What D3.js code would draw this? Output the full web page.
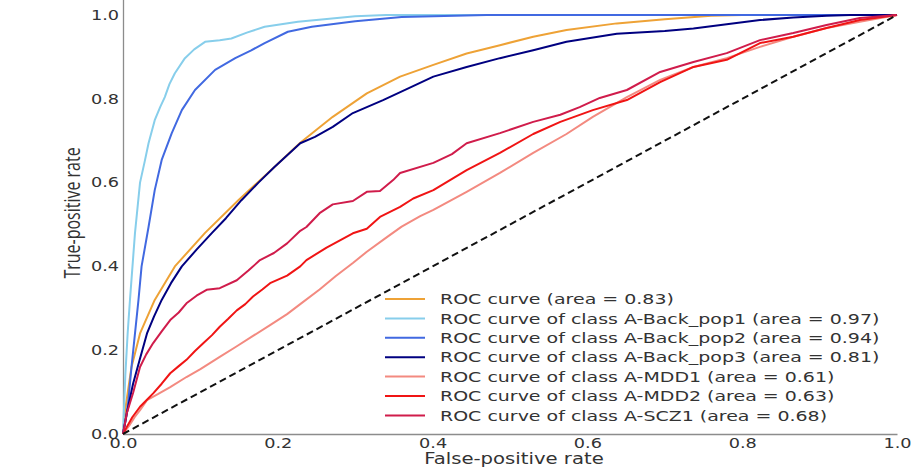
<!DOCTYPE html>
<html>
  <head>
    <title>ROC curves</title>
    <script src="https://d3js.org/d3.v7.min.js" charset="utf-8"></script>
    <style>
      body { margin: 0; background: #fff; }
      svg { display: block; }
      .tick text { font-family: "DejaVu Sans", sans-serif; font-size: 13.5px; fill: #333; }
      .domain { stroke: #8c8c8c; stroke-width: 1.3; }
    </style>
  </head>
  <body>
    <svg></svg>
    <script>
      // values, [false-positive rate, true-positive rate]
      const rocAll = [[0,0],[0.003,0.06],[0.011,0.16],[0.022,0.24],[0.041,0.32],[0.067,0.40],[0.106,0.48],[0.149,0.558],[0.196,0.638],[0.229,0.695],[0.271,0.757],[0.315,0.813],[0.358,0.853],[0.401,0.881],[0.444,0.908],[0.487,0.928],[0.530,0.948],[0.573,0.964],[0.638,0.980],[0.700,0.990],[0.760,0.998],[0.800,1.0],[1,1]];
      const rocBackPop1 = [[0,0],[0.003,0.14],[0.006,0.24],[0.009,0.32],[0.0155,0.48],[0.022,0.60],[0.028,0.65],[0.033,0.694],[0.041,0.749],[0.048,0.78],[0.054,0.804],[0.060,0.835],[0.067,0.861],[0.080,0.897],[0.092,0.918],[0.106,0.936],[0.125,0.940],[0.140,0.944],[0.160,0.958],[0.183,0.972],[0.226,0.984],[0.26,0.99],[0.30,0.997],[0.34,1.0],[1,1]];
      const rocBackPop2 = [[0,0],[0.004,0.04],[0.007,0.081],[0.011,0.16],[0.0155,0.24],[0.020,0.32],[0.024,0.40],[0.033,0.494],[0.041,0.582],[0.050,0.654],[0.063,0.718],[0.076,0.773],[0.093,0.821],[0.119,0.869],[0.145,0.897],[0.165,0.915],[0.183,0.933],[0.213,0.96],[0.244,0.972],[0.30,0.985],[0.36,0.995],[0.47,1.0],[1,1]];
      const rocBackPop3 = [[0,0],[0.005,0.05],[0.013,0.12],[0.022,0.18],[0.031,0.24],[0.040,0.28],[0.050,0.32],[0.062,0.36],[0.076,0.40],[0.095,0.44],[0.115,0.48],[0.133,0.515],[0.153,0.558],[0.175,0.60],[0.196,0.638],[0.229,0.694],[0.248,0.709],[0.271,0.733],[0.297,0.766],[0.336,0.797],[0.370,0.826],[0.401,0.853],[0.444,0.876],[0.487,0.897],[0.530,0.916],[0.573,0.936],[0.638,0.955],[0.700,0.962],[0.737,0.968],[0.780,0.978],[0.823,0.988],[0.866,0.994],[0.909,0.998],[0.94,1.0],[1,1]];
      const rocMdd1 = [[0,0],[0.008,0.02],[0.015,0.04],[0.022,0.057],[0.031,0.081],[0.045,0.095],[0.061,0.112],[0.082,0.136],[0.100,0.155],[0.125,0.184],[0.145,0.207],[0.168,0.234],[0.190,0.26],[0.212,0.286],[0.229,0.31],[0.254,0.345],[0.275,0.377],[0.297,0.408],[0.315,0.435],[0.341,0.47],[0.360,0.495],[0.384,0.52],[0.401,0.535],[0.444,0.578],[0.487,0.623],[0.530,0.671],[0.573,0.716],[0.607,0.757],[0.651,0.804],[0.694,0.845],[0.737,0.876],[0.780,0.897],[0.823,0.924],[0.866,0.948],[0.909,0.969],[0.952,0.984],[1,1]];
      const rocMdd2 = [[0,0],[0.005,0.017],[0.012,0.04],[0.022,0.065],[0.030,0.08],[0.039,0.097],[0.050,0.12],[0.061,0.145],[0.072,0.162],[0.082,0.177],[0.093,0.198],[0.104,0.217],[0.115,0.236],[0.125,0.256],[0.136,0.275],[0.147,0.295],[0.158,0.31],[0.168,0.328],[0.180,0.345],[0.190,0.360],[0.212,0.378],[0.229,0.40],[0.237,0.415],[0.263,0.445],[0.297,0.479],[0.315,0.49],[0.332,0.518],[0.358,0.542],[0.375,0.562],[0.401,0.582],[0.444,0.63],[0.487,0.671],[0.530,0.716],[0.565,0.745],[0.607,0.773],[0.651,0.797],[0.694,0.84],[0.737,0.876],[0.780,0.893],[0.823,0.933],[0.866,0.948],[0.909,0.969],[0.952,0.988],[1,1]];
      const rocScz1 = [[0,0],[0.005,0.05],[0.013,0.098],[0.022,0.16],[0.030,0.19],[0.039,0.217],[0.050,0.245],[0.061,0.272],[0.072,0.29],[0.082,0.312],[0.095,0.33],[0.108,0.344],[0.125,0.348],[0.147,0.367],[0.162,0.39],[0.177,0.415],[0.195,0.432],[0.212,0.455],[0.229,0.485],[0.237,0.494],[0.254,0.527],[0.271,0.548],[0.297,0.556],[0.315,0.578],[0.332,0.58],[0.349,0.606],[0.358,0.623],[0.401,0.647],[0.425,0.668],[0.444,0.694],[0.487,0.718],[0.530,0.745],[0.565,0.762],[0.590,0.78],[0.616,0.802],[0.651,0.821],[0.694,0.864],[0.737,0.888],[0.780,0.909],[0.823,0.940],[0.866,0.957],[0.909,0.976],[0.952,0.993],[1,1]];
      const chance = [[0,0],[1,1]];

      const seriesData = [rocAll, rocBackPop1, rocBackPop2, rocBackPop3, rocMdd1, rocMdd2, rocScz1];
      const seriesLabels = [
        "ROC curve (area = 0.83)",
        "ROC curve of class A-Back_pop1 (area = 0.97)",
        "ROC curve of class A-Back_pop2 (area = 0.94)",
        "ROC curve of class A-Back_pop3 (area = 0.81)",
        "ROC curve of class A-MDD1 (area = 0.61)",
        "ROC curve of class A-MDD2 (area = 0.63)",
        "ROC curve of class A-SCZ1 (area = 0.68)"
      ];
      const seriesColors = ["#eea236", "#87ceeb", "#4169e1", "#000080", "#f38a80", "#f01414", "#d01c4b"];
      const tickValues = [0, 0.2, 0.4, 0.6, 0.8, 1.0];

      const W = 917, H = 469;
      const SX = 1.31; // reference picture is stretched sideways
      const svg = d3.select("svg").attr("width", W).attr("height", H);

      const x = d3.scaleLinear().domain([0, 1]).range([123, 897]);
      const y = d3.scaleLinear().domain([0, 1.05]).range([434, 434 - 419 * 1.05]);

      const xAxis = svg.append("g")
        .attr("transform", `translate(0,${y(0)})`)
        .call(d3.axisBottom(x).tickValues(tickValues).tickFormat(d3.format(".1f"))
          .tickSizeInner(0).tickSizeOuter(0).tickPadding(4));
      xAxis.selectAll(".tick text").attr("transform", `scale(${SX},1)`);

      const yAxis = svg.append("g")
        .attr("transform", `translate(${x(0)},0)`)
        .call(d3.axisLeft(y).tickValues(tickValues).tickFormat(d3.format(".1f"))
          .tickSizeInner(0).tickSizeOuter(0).tickPadding(3));
      yAxis.selectAll(".tick text").attr("transform", `scale(${SX},1)`);

      const line = d3.line().x((d) => x(d[0])).y((d) => y(d[1]));

      seriesData.forEach((data, i) => {
        svg.append("path")
          .datum(data)
          .attr("fill", "none")
          .attr("stroke", seriesColors[i])
          .attr("stroke-width", 2)
          .attr("stroke-linejoin", "round")
          .attr("d", line);
      });

      svg.append("path")
        .datum(chance)
        .attr("fill", "none")
        .attr("stroke", "#111")
        .attr("stroke-width", 2)
        .attr("stroke-dasharray", "7,4")
        .attr("d", line);

      // axis titles
      svg.append("text")
        .attr("transform", `translate(514,464) scale(${SX},1)`)
        .attr("text-anchor", "middle")
        .style("font-family", "DejaVu Sans, sans-serif")
        .style("font-size", "15px")
        .style("fill", "#333")
        .text("False-positive rate");

      svg.append("text")
        .attr("transform", `translate(80,213) scale(${SX},1) rotate(-90)`)
        .attr("text-anchor", "middle")
        .style("font-family", "Open Sans, sans-serif")
        .style("font-size", "16px")
        .style("fill", "#333")
        .text("True-positive rate");

      // legend
      const legend = svg.append("g").attr("transform", "translate(385,299)");
      seriesLabels.forEach((label, i) => {
        const row = legend.append("g").attr("transform", `translate(0,${i * 19.4})`);
        row.append("line")
          .attr("x1", 0).attr("x2", 40)
          .attr("stroke", seriesColors[i])
          .attr("stroke-width", 2);
        row.append("text")
          .attr("transform", `translate(55,0) scale(${SX},1)`)
          .attr("dy", "0.36em")
          .style("font-family", "DejaVu Sans, sans-serif")
          .style("font-size", "14.5px")
          .style("fill", "#333")
          .text(label);
      });
    </script>
  </body>
</html>
